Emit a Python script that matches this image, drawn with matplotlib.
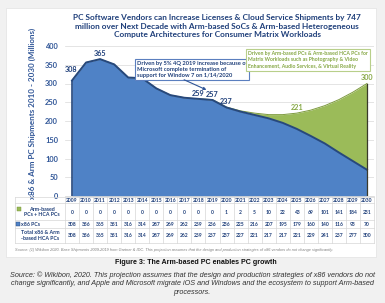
import numpy as np
import matplotlib
matplotlib.use("Agg")
import matplotlib.pyplot as plt
from matplotlib.patches import Rectangle

#%% data
years = [2009, 2010, 2011, 2012, 2013, 2014, 2015, 2016, 2017, 2018, 2019,
         2020, 2021, 2022, 2023, 2024, 2025, 2026, 2027, 2028, 2029, 2030]
arm   = [0, 0, 0, 0, 0, 0, 0, 0, 0, 0, 0,
         1, 2, 5, 10, 22, 43, 69, 101, 141, 184, 231]
x86   = [308, 356, 365, 351, 316, 314, 287, 269, 262, 259, 256,
         236, 225, 216, 207, 195, 179, 160, 140, 116, 93, 70]
total = [308, 356, 365, 351, 316, 314, 287, 269, 262, 259, 257,
         237, 227, 221, 217, 217, 221, 229, 241, 257, 277, 300]

blue_labels  = [2009, 2011, 2018, 2019, 2020]   # years with a value on the blue line
green_labels = [2025, 2030]

title = ("PC Software Vendors can Increase Licenses & Cloud Service Shipments by 747\n"
         "million over Next Decade with Arm-based SoCs & Arm-based Heterogeneous\n"
         "Compute Architectures for Consumer Matrix Workloads")
note1 = ("Driven by 5% 4Q 2019 increase because of\n"
         "Microsoft complete termination of\n"
         "support for Window 7 on 1/14/2020")
note2 = ("Driven by Arm-based PCs & Arm-based HCA PCs for\n"
         "Matrix Workloads such as Photography & Video\n"
         "Enhancement, Audio Services, & Virtual Reality")
row_names = ["Arm-based\nPCs + HCA PCs", "x86 PCs", "Total x86 & Arm\n-based HCA PCs"]
source_small = ("Source: (1) Wikibon 2020. Base Shipments 2009-2019 from Gartner & IDC. "
                "This projection assumes that the design and production strategies of "
                "x86 vendors do not change significantly.")
caption = "Figure 3: The Arm-based PC enables PC growth"
caption_src = ("Source: \u00a9 Wikibon, 2020. This projection assumes that the design and "
               "production strategies of x86 vendors do not\nchange significantly, and Apple "
               "and Microsoft migrate iOS and Windows and the ecosystem to support Arm-based\n"
               "processors.")

#%% figure
W, H = 385, 303
def fx(px): return px / W
def fy(py): return 1 - py / H

dblue  = "#1f3f7a"
tblue  = "#2f5597"
green  = "#9bbb59"
dgreen = "#86a845"
fnt    = "Lato"

fig = plt.figure(figsize=(W/100, H/100), dpi=100, facecolor="#f1f1f1")
fig.patches.append(Rectangle((fx(6), fy(257)), fx(370), 249/H, transform=fig.transFigure,
                             facecolor="white", edgecolor="#e2e2e2", lw=0.5, zorder=-5))

ax = fig.add_axes([fx(65), fy(196), fx(309), 150/H])
ax.set_facecolor("white")
x = np.arange(len(years))

ax.fill_between(x, 0, x86, color="#4f82c6", lw=0, zorder=2)
ax.fill_between(x, x86, total, color=green, lw=0, zorder=2)
ax.plot(x, total, color="#7d9a3e", lw=0.7, zorder=3)
ax.plot(x, x86, color="#27487c", lw=1.4, zorder=4)
ax.plot([x[0], x[0]], [0, x86[0]], color="#27487c", lw=1.2, zorder=4)
ax.plot([x[-1], x[-1]], [0, total[-1]], color="#3a3a2a", lw=0.9, zorder=4)

ax.set_xlim(-0.5, len(years) - 0.5)
ax.set_ylim(0, 400)
ax.set_yticks(range(0, 401, 50))
ax.grid(axis="y", color="#d9d9d9", lw=0.5, zorder=0)
for s in ["top", "right", "left"]:
    ax.spines[s].set_visible(False)
ax.spines["bottom"].set_color("#d0d0d0")
ax.spines["bottom"].set_linewidth(0.5)
ax.tick_params(axis="y", length=0, pad=5, labelsize=5.4, labelcolor=tblue)
for t in ax.get_yticklabels():
    t.set_fontweight("bold"); t.set_fontfamily(fnt)
ax.set_xticks(x)
ax.set_xticklabels([str(y) for y in years], fontsize=3.6, fontweight="bold",
                   color=dblue, fontfamily=fnt)
ax.tick_params(axis="x", length=0, pad=1.5)
ax.set_ylabel("x86 & Arm PC Shipments 2010 - 2030 (Millions)", fontsize=5.8,
              fontweight="bold", color=tblue, fontfamily=fnt)
ax.yaxis.set_label_coords((36 - 65) / 309, (196 - 113) / 150)

# value labels
for yr in blue_labels:
    i = years.index(yr)
    dy = 8 if yr == 2009 else 4
    dx = -1 if yr == 2009 else 0
    ax.annotate(str(total[i]), (i, total[i]), xytext=(dx, dy), textcoords="offset points",
                ha="center", va="center", fontsize=5.2, fontweight="bold", color=dblue,
                fontfamily=fnt, zorder=6)
for yr in green_labels:
    i = years.index(yr)
    ax.annotate(str(total[i]), (i, total[i]), xytext=(0, 4), textcoords="offset points",
                ha="center", va="center", fontsize=5.2, fontweight="bold", color=dgreen,
                fontfamily=fnt, zorder=6)

# notes
ax.text(4.6, 359, note1, fontsize=4.15, fontweight="bold", color=dblue, fontfamily=fnt,
        ha="left", va="top", linespacing=1.25, zorder=7,
        bbox=dict(boxstyle="square,pad=0.35", fc="white", ec="#5b7fbf", lw=0.8))
ax.annotate("", xy=(9.75, 280), xytext=(7.8, 313),
            arrowprops=dict(arrowstyle="-|>", color="#2f5597", lw=0.8, mutation_scale=4),
            zorder=7)
ax.text(12.55, 388, note2, fontsize=3.72, fontweight="bold", color=dgreen, fontfamily=fnt,
        ha="left", va="top", linespacing=1.4, zorder=7,
        bbox=dict(boxstyle="square,pad=0.35", fc="white", ec="#b8cf8a", lw=0.8))

# data table under the axis
tr = ax.get_xaxis_transform()
def ay(py): return (196 - py) / 150
lx0 = (15 - 65) / 309
for py in [197, 203, 220, 228, 243]:
    ax.plot([lx0, 1], [ay(py), ay(py)], transform=ax.transAxes, color="#d6d6d6",
            lw=0.5, clip_on=False)
for b in np.arange(-0.5, len(years), 1.0):
    ax.plot([b, b], [ay(197), ay(243)], transform=tr, color="#d6d6d6", lw=0.5,
            clip_on=False)
ax.plot([lx0, lx0], [ay(197), ay(243)], transform=ax.transAxes, color="#d6d6d6",
        lw=0.5, clip_on=False)

rows = [(arm, 212), (x86, 224), (total, 235.5)]
for vals, py in rows:
    for i, v in enumerate(vals):
        ax.text(i, ay(py), str(v), transform=tr, ha="center", va="center",
                fontsize=3.6, fontweight="bold", color=dblue, fontfamily=fnt,
                clip_on=False)

cx = (40 - 65) / 309
ax.text(cx + 0.005, ay(212), row_names[0], transform=ax.transAxes, ha="center",
        va="center", fontsize=3.8, fontweight="bold", color=dblue, fontfamily=fnt,
        linespacing=1.2)
ax.text((21 - 65) / 309, ay(224), row_names[1], transform=ax.transAxes, ha="left",
        va="center", fontsize=3.8, fontweight="bold", color=dblue, fontfamily=fnt)
ax.text(cx, ay(235.5), row_names[2], transform=ax.transAxes, ha="center",
        va="center", fontsize=3.8, fontweight="bold", color=dblue, fontfamily=fnt,
        linespacing=1.2)
ax.plot([(19 - 65) / 309], [ay(209)], transform=ax.transAxes, marker="s", ms=2.2,
        color=green, mec="#6f8f30", mew=0.3, clip_on=False)
ax.plot([(18 - 65) / 309], [ay(224)], transform=ax.transAxes, marker="s", ms=2.2,
        color="#4f82c6", mec="#27487c", mew=0.3, clip_on=False)

fig.text(fx(15), fy(249.5), source_small, fontsize=2.75, style="italic", color="#7f7f7f",
         ha="left", va="center", fontfamily="Liberation Sans")

# titles and caption
fig.text(fx(217), fy(26), title, fontsize=5.95, fontweight="bold", color=dblue,
         ha="center", va="center", linespacing=1.2, fontfamily=fnt)
fig.text(fx(196), fy(262), caption, fontsize=5.1, fontweight="bold", color="#111111",
         ha="center", va="center", fontfamily="Liberation Sans")
fig.text(fx(192), fy(283.5), caption_src, fontsize=5.2, style="italic", color="#333333",
         ha="center", va="center", linespacing=1.3, fontfamily="Liberation Sans")

fig.savefig("out.png", dpi=100, facecolor=fig.get_facecolor())
